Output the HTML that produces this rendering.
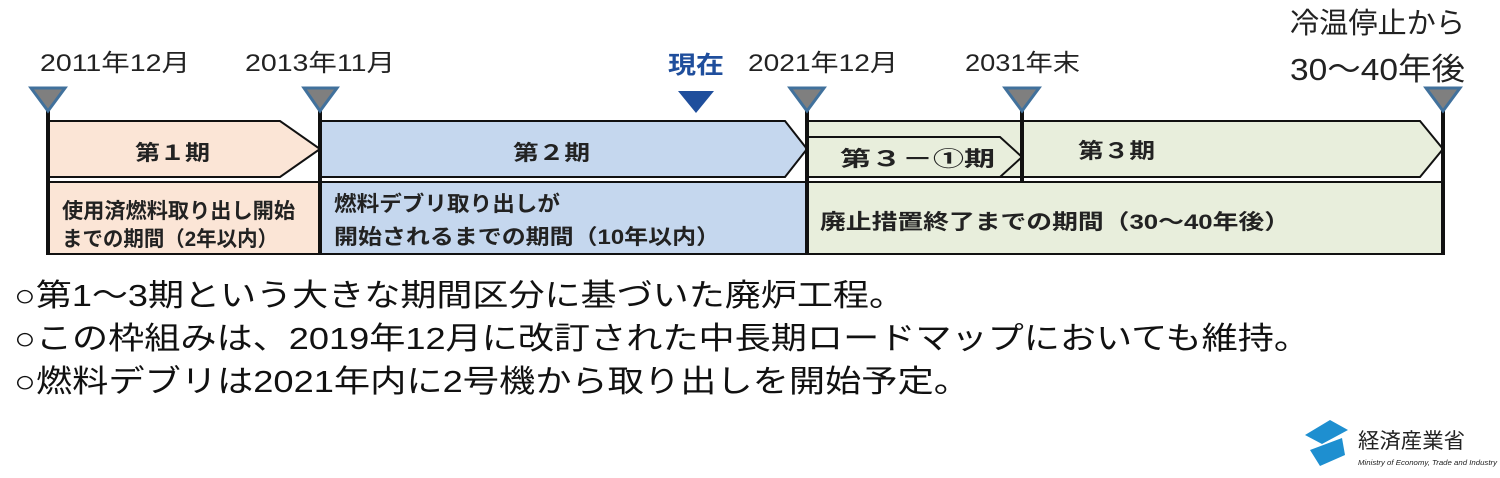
<!DOCTYPE html>
<html><head><meta charset="utf-8"><style>
body{margin:0;width:1500px;height:473px;background:#fff;overflow:hidden;font-family:"Liberation Sans","Noto Sans CJK JP",sans-serif;}
svg text{font-family:"Liberation Sans","Noto Sans CJK JP",sans-serif;}
</style></head><body>
<svg width="1500" height="473" viewBox="0 0 1500 473" xmlns="http://www.w3.org/2000/svg">
<rect x="48" y="182" width="272" height="72" fill="#fbe5d6" stroke="#111" stroke-width="2"/>
<rect x="320" y="182" width="487" height="72" fill="#c5d7ee" stroke="#111" stroke-width="2"/>
<rect x="807" y="182" width="636" height="72" fill="#e8eedc" stroke="#111" stroke-width="2"/>
<polygon points="49,121 280,121 320,149 280,177 49,177" fill="#fbe5d6" stroke="#111" stroke-width="2"/>
<polygon points="320,121 785,121 807,149 785,177 320,177" fill="#c5d7ee" stroke="#111" stroke-width="2"/>
<polygon points="807,121 1420,121 1443,149 1420,177 807,177" fill="#e8eedc" stroke="#111" stroke-width="2"/>
<polygon points="807,137 1000,137 1022,157 1000,177 807,177" fill="#e8eedc" stroke="#111" stroke-width="2"/>
<g stroke="#111" stroke-width="4">
<line x1="48" y1="105" x2="48" y2="255"/>
<line x1="320" y1="105" x2="320" y2="255"/>
<line x1="807" y1="105" x2="807" y2="255"/>
<line x1="1022" y1="105" x2="1022" y2="182"/>
<line x1="1443" y1="105" x2="1443" y2="255"/>
</g>
<g fill="#7f7f7f" stroke="#41719c" stroke-width="3">
<polygon points="31,88 65,88 48,111"/>
<polygon points="304,88 337,88 320,111"/>
<polygon points="790,88 824,88 807,111"/>
<polygon points="1005,88 1039,88 1022,111"/>
<polygon points="1426,88 1460,88 1443,111"/>
</g>
<polygon points="678,91 714,91 696,113" fill="#1f4e9c"/>
<g font-size="24" fill="#222" lengthAdjust="spacingAndGlyphs">
<text x="40" y="71" textLength="150" lengthAdjust="spacingAndGlyphs">2011年12月</text>
<text x="245" y="71" textLength="150" lengthAdjust="spacingAndGlyphs">2013年11月</text>
<text x="748" y="71" textLength="150" lengthAdjust="spacingAndGlyphs">2021年12月</text>
<text x="965" y="71" textLength="115" lengthAdjust="spacingAndGlyphs">2031年末</text>
</g>
<text x="668" y="73" font-size="24" font-weight="bold" fill="#1f4e9c" textLength="56" lengthAdjust="spacingAndGlyphs">現在</text>
<text x="1290" y="33" font-size="29" fill="#222" textLength="175" lengthAdjust="spacingAndGlyphs">冷温停止から</text>
<text x="1290" y="80" font-size="31" fill="#222" textLength="175" lengthAdjust="spacingAndGlyphs">30〜40年後</text>
<g font-size="21" font-weight="bold" fill="#222">
<text x="135" y="160" textLength="75" lengthAdjust="spacingAndGlyphs">第１期</text>
<text x="513" y="160" textLength="77" lengthAdjust="spacingAndGlyphs">第２期</text>
<text x="840" y="166" textLength="155" lengthAdjust="spacingAndGlyphs">第３－①期</text>
<text x="1078" y="158" textLength="77" lengthAdjust="spacingAndGlyphs">第３期</text>
<text x="62" y="218" textLength="233" lengthAdjust="spacingAndGlyphs">使用済燃料取り出し開始</text>
<text x="62" y="246" textLength="216" lengthAdjust="spacingAndGlyphs">までの期間（2年以内）</text>
<text x="334" y="211" textLength="226" lengthAdjust="spacingAndGlyphs">燃料デブリ取り出しが</text>
<text x="334" y="244" textLength="386" lengthAdjust="spacingAndGlyphs">開始されるまでの期間（10年以内）</text>
<text x="820" y="229" textLength="470" lengthAdjust="spacingAndGlyphs">廃止措置終了までの期間（30〜40年後）</text>
</g>
<g font-size="31" fill="#111">
<text x="14" y="306" textLength="891" lengthAdjust="spacingAndGlyphs">○第1～3期という大きな期間区分に基づいた廃炉工程。</text>
<text x="14" y="349" textLength="1296" lengthAdjust="spacingAndGlyphs">○この枠組みは、2019年12月に改訂された中長期ロードマップにおいても維持。</text>
<text x="14" y="392" textLength="956" lengthAdjust="spacingAndGlyphs">○燃料デブリは2021年内に2号機から取り出しを開始予定。</text>
</g>
<polygon points="1305,435 1330,420 1348,430 1322,444" fill="#1e8fd0"/>
<polygon points="1310,450 1342,438 1345,455 1320,466" fill="#1e8fd0"/>
<text x="1358" y="448" font-size="21" fill="#222" textLength="107" lengthAdjust="spacingAndGlyphs">経済産業省</text>
<text x="1358" y="465" font-size="7" font-style="italic" fill="#222" textLength="139" lengthAdjust="spacingAndGlyphs">Ministry of Economy, Trade and Industry</text>
</svg>
</body></html>
